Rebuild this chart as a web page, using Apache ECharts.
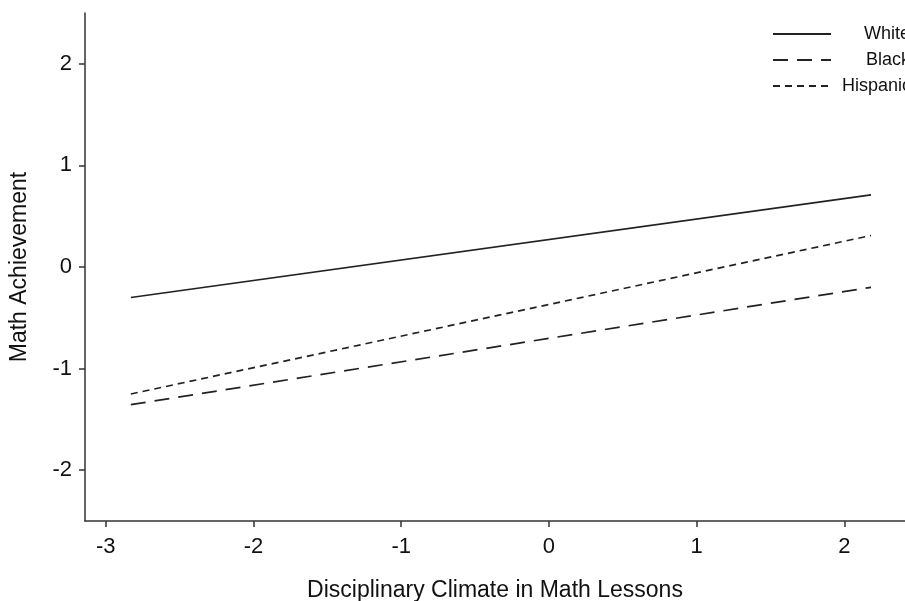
<!DOCTYPE html>
<html>
<head>
  <meta charset="utf-8">
  <title></title>
  <script src="https://cdn.jsdelivr.net/npm/echarts@6/dist/echarts.min.js"></script>
  <style>
    html, body { margin: 0; padding: 0; background: #fff; }
    #chart { width: 905px; height: 601px; }
  </style>
</head>
<body>
<div id="chart"></div>
<script>
  // climate values at the two ends of each line
  var climate = [-2.83, 2.18];
  var white = [-0.30, 0.71];
  var black = [-1.355, -0.20];
  var hispanic = [-1.25, 0.31];
  var xTicks = [-3, -2, -1, 0, 1, 2];
  var yTicks = [-2, -1, 0, 1, 2];

  function pairs(ys) {
    var out = [];
    for (var i = 0; i < climate.length; i++) {
      out.push([climate[i], ys[i]]);
    }
    return out;
  }

  var ink = '#333';
  var font = 'Liberation Sans, Arial, Helvetica, sans-serif';

  var chart = echarts.init(document.getElementById('chart'));
  chart.setOption({
    animation: false,
    grid: { left: 85, right: 0, top: 13, bottom: 80, outerBoundsMode: 'none' },
    legend: {
      orient: 'vertical',
      left: 767,
      top: 20,
      itemWidth: 58,
      itemHeight: 14,
      itemGap: 8,
      itemStyle: { opacity: 0 },
      textStyle: { color: '#111', fontSize: 18, lineHeight: 18, fontFamily: font },
      data: [
        { name: 'White', textStyle: { padding: [0, 0, 0, 28] } },
        { name: 'Black', textStyle: { padding: [0, 0, 0, 30] } },
        { name: 'Hispanic', textStyle: { padding: [0, 0, 0, 6] } }
      ]
    },
    xAxis: {
      type: 'value',
      min: -3.14,
      max: 2.41,
      name: 'Disciplinary Climate in Math Lessons',
      nameLocation: 'middle',
      nameGap: 58,
      nameTextStyle: { color: '#111', fontSize: 23, fontFamily: font },
      splitLine: { show: false },
      axisLine: { onZero: false, lineStyle: { color: ink, width: 1.5 } },
      axisTick: { show: true, length: 6, customValues: xTicks, lineStyle: { color: ink, width: 1.5 } },
      axisLabel: { customValues: xTicks, margin: 15, color: '#111', fontSize: 22, fontFamily: font }
    },
    yAxis: {
      type: 'value',
      min: -2.5,
      max: 2.5,
      name: 'Math Achievement',
      nameLocation: 'middle',
      nameGap: 54,
      nameTextStyle: { color: '#111', fontSize: 23, fontFamily: font },
      splitLine: { show: false },
      axisLine: { show: true, onZero: false, lineStyle: { color: ink, width: 1.5 } },
      axisTick: { show: true, length: 6, customValues: yTicks, lineStyle: { color: ink, width: 1.5 } },
      axisLabel: { customValues: yTicks, margin: 13, color: '#111', fontSize: 22, fontFamily: font }
    },
    series: [
      {
        name: 'White',
        type: 'line',
        symbol: 'none',
        data: pairs(white),
        color: '#222',
        lineStyle: { color: '#222', width: 1.7, type: 'solid' }
      },
      {
        name: 'Black',
        type: 'line',
        symbol: 'none',
        data: pairs(black),
        color: '#222',
        lineStyle: { color: '#222', width: 1.7, type: [15, 9] }
      },
      {
        name: 'Hispanic',
        type: 'line',
        symbol: 'none',
        data: pairs(hispanic),
        color: '#222',
        lineStyle: { color: '#222', width: 1.7, type: [7, 5] }
      }
    ]
  });
</script>
</body>
</html>
